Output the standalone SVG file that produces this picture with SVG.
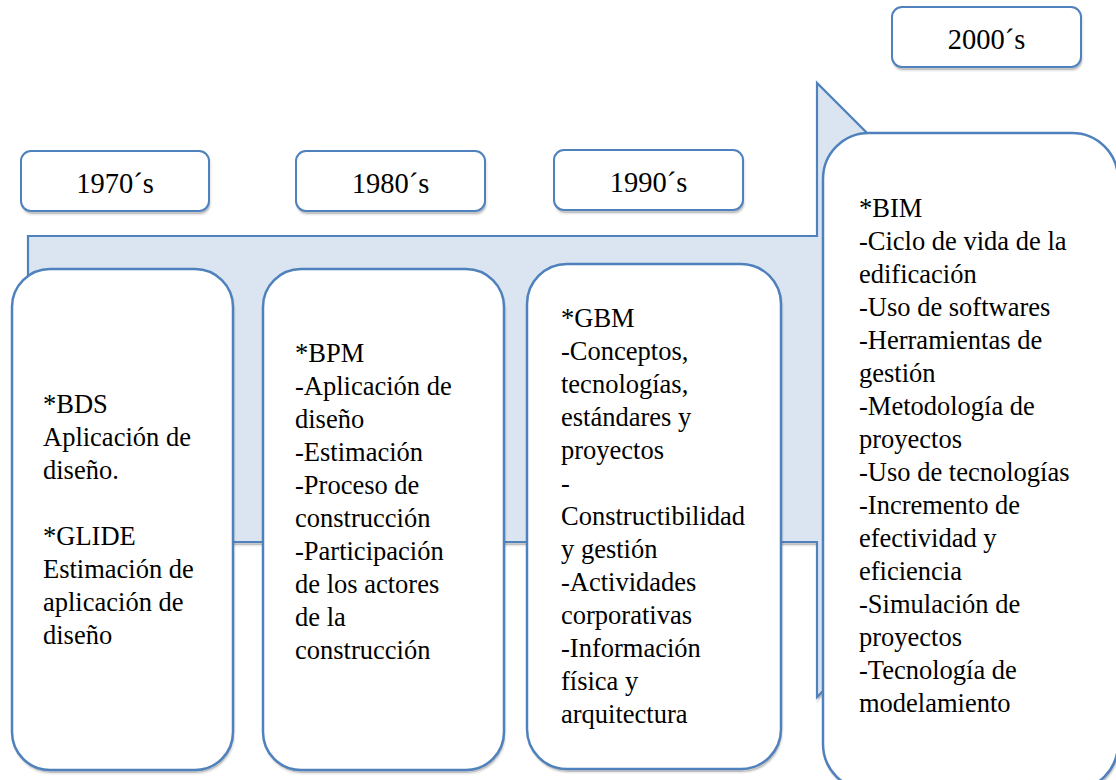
<svg xmlns="http://www.w3.org/2000/svg" width="1116" height="780" viewBox="0 0 1116 780">
<style>
.arrow{fill:#dbe5f1;stroke:#4f81bd;stroke-width:2.2;stroke-linejoin:miter}
.box{fill:#fff;stroke:#4f81bd;stroke-width:2.5}
.yr{fill:#fff;stroke:#4f81bd;stroke-width:2}
.sd{fill:#000;fill-opacity:0.18;stroke:#000;stroke-opacity:0.08;stroke-width:3}
.yt{font-size:28.5px;fill:#000;text-anchor:middle}
.t{font-size:26.5px;fill:#000}
</style>
<rect width="1116" height="780" fill="#fff"/>
<g id="connectors">
<polygon class="sd" points="29,239 818,239 818,86 1125,393 818,700 818,545 29,545"/>
<polygon class="arrow" points="28,236 817,236 817,83 1124,390 817,697 817,542 28,542"/>
</g>
<g id="y1970">
<rect class="sd" x="22" y="154" width="188" height="60" rx="10"/>
<rect class="yr" x="21" y="151" width="188" height="60" rx="10"/>
<text class="yt" font-family="Liberation Serif" x="115" y="193">1970´s</text>
</g>
<g id="y1980">
<rect class="sd" x="297" y="154" width="189" height="60" rx="10"/>
<rect class="yr" x="296" y="151" width="189" height="60" rx="10"/>
<text class="yt" font-family="Liberation Serif" x="390.5" y="193">1980´s</text>
</g>
<g id="y1990">
<rect class="sd" x="555" y="153" width="189" height="60" rx="10"/>
<rect class="yr" x="554" y="150" width="189" height="60" rx="10"/>
<text class="yt" font-family="Liberation Serif" x="648.5" y="192">1990´s</text>
</g>
<g id="y2000">
<rect class="sd" x="893" y="10" width="189" height="60" rx="10"/>
<rect class="yr" x="892" y="7" width="189" height="60" rx="10"/>
<text class="yt" font-family="Liberation Serif" x="986.5" y="49">2000´s</text>
</g>
<g id="box1970" font-family="Liberation Serif">
<rect class="sd" x="13" y="272" width="221" height="501" rx="38"/>
<rect class="box" x="12" y="269" width="221" height="501" rx="38"/>
<text class="t" x="43" y="413">*BDS</text>
<text class="t" x="43" y="446">Aplicación de</text>
<text class="t" x="43" y="479">diseño.</text>
<text class="t" x="43" y="545">*GLIDE</text>
<text class="t" x="43" y="578">Estimación de</text>
<text class="t" x="43" y="611">aplicación de</text>
<text class="t" x="43" y="644">diseño</text>
</g>
<g id="box1980" font-family="Liberation Serif">
<rect class="sd" x="264" y="272" width="241" height="501" rx="38"/>
<rect class="box" x="263" y="269" width="241" height="501" rx="38"/>
<text class="t" x="295" y="362">*BPM</text>
<text class="t" x="295" y="395">-Aplicación de</text>
<text class="t" x="295" y="428">diseño</text>
<text class="t" x="295" y="461">-Estimación</text>
<text class="t" x="295" y="494">-Proceso de</text>
<text class="t" x="295" y="527">construcción</text>
<text class="t" x="295" y="560">-Participación</text>
<text class="t" x="295" y="593">de los actores</text>
<text class="t" x="295" y="626">de la</text>
<text class="t" x="295" y="659">construcción</text>
</g>
<g id="box1990" font-family="Liberation Serif">
<rect class="sd" x="528" y="267" width="254" height="505" rx="40"/>
<rect class="box" x="527" y="264" width="254" height="505" rx="40"/>
<text class="t" x="561" y="327">*GBM</text>
<text class="t" x="561" y="360">-Conceptos,</text>
<text class="t" x="561" y="393">tecnologías,</text>
<text class="t" x="561" y="426">estándares y</text>
<text class="t" x="561" y="459">proyectos</text>
<text class="t" x="561" y="492">-</text>
<text class="t" x="561" y="525">Constructibilidad</text>
<text class="t" x="561" y="558">y gestión</text>
<text class="t" x="561" y="591">-Actividades</text>
<text class="t" x="561" y="624">corporativas</text>
<text class="t" x="561" y="657">-Información</text>
<text class="t" x="561" y="690">física y</text>
<text class="t" x="561" y="723">arquitectura</text>
</g>
<g id="box2000" font-family="Liberation Serif">
<rect class="sd" x="824" y="136" width="295" height="657" rx="46"/>
<rect class="box" x="823" y="133" width="295" height="657" rx="46"/>
<text class="t" x="859" y="217">*BIM</text>
<text class="t" x="859" y="250">-Ciclo de vida de la</text>
<text class="t" x="859" y="283">edificación</text>
<text class="t" x="859" y="316">-Uso de softwares</text>
<text class="t" x="859" y="349">-Herramientas de</text>
<text class="t" x="859" y="382">gestión</text>
<text class="t" x="859" y="415">-Metodología de</text>
<text class="t" x="859" y="448">proyectos</text>
<text class="t" x="859" y="481">-Uso de tecnologías</text>
<text class="t" x="859" y="514">-Incremento de</text>
<text class="t" x="859" y="547">efectividad y</text>
<text class="t" x="859" y="580">eficiencia</text>
<text class="t" x="859" y="613">-Simulación de</text>
<text class="t" x="859" y="646">proyectos</text>
<text class="t" x="859" y="679">-Tecnología de</text>
<text class="t" x="859" y="712">modelamiento</text>
</g>
</svg>
